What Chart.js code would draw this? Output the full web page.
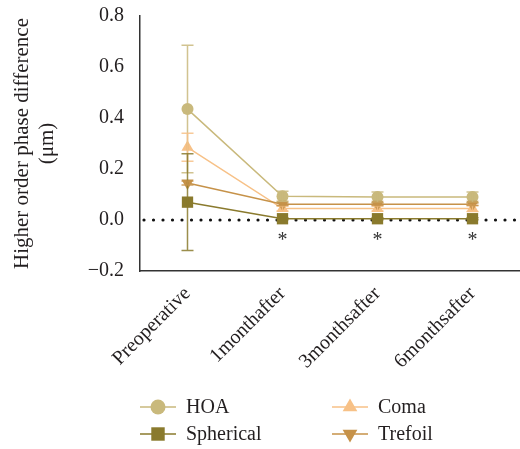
<!DOCTYPE html>
<html>
<head>
<meta charset="utf-8">
<script src="https://cdn.jsdelivr.net/npm/chart.js@4.4.1/dist/chart.umd.min.js"></script>
<style>
  html, body { margin: 0; padding: 0; background: #fff; }
  #wrap { width: 520px; height: 449px; position: relative; }
</style>
</head>
<body>
<div id="wrap"><canvas id="chart"></canvas></div>
<script>
const categories = ['Preoperative', '1monthafter', '3monthsafter', '6monthsafter'];

const hoa = [0.435, 0.093, 0.09, 0.09];
const hoaErr = [0.25, 0.02, 0.02, 0.02];
const coma = [0.285, 0.045, 0.045, 0.045];
const comaErr = [0.055, 0.01, 0.01, 0.012];
const spherical = [0.07, 0.005, 0.005, 0.005];
const sphericalErr = [0.19, 0.004, 0.004, 0.004];
const trefoil = [0.145, 0.062, 0.062, 0.062];
const trefoilErr = [0.008, 0.005, 0.005, 0.005];

const sigMarks = ['', '*', '*', '*'];
const yTicks = [-0.2, 0.0, 0.2, 0.4, 0.6, 0.8];

const serif = '"Liberation Serif", "DejaVu Serif", serif';
Chart.defaults.font.family = serif;
Chart.defaults.color = '#231f20';

const colors = {
  hoa: '#c9b97c',
  coma: '#f7c187',
  spherical: '#8a7a2d',
  trefoil: '#c69249'
};

function series(label, data, err, color, style, rot, radius, order) {
  return {
    label: label,
    data: data,
    errors: err,
    borderColor: color,
    backgroundColor: color,
    borderWidth: 1.5,
    pointStyle: style,
    rotation: rot,
    pointRadius: radius,
    pointHoverRadius: radius,
    pointBorderWidth: 0,
    order: order
  };
}

// error bars
const errorBars = {
  id: 'errorBars',
  afterDatasetsDraw(chart) {
    const ctx = chart.ctx;
    const y = chart.scales.y;
    ctx.save();
    chart.data.datasets.forEach((ds, i) => {
      const meta = chart.getDatasetMeta(i);
      ctx.strokeStyle = ds.borderColor;
      ctx.globalAlpha = 0.85;
      ctx.lineWidth = 1.5;
      meta.data.forEach((pt, j) => {
        const e = ds.errors[j];
        const top = y.getPixelForValue(ds.data[j] + e);
        const bot = y.getPixelForValue(ds.data[j] - e);
        ctx.beginPath();
        ctx.moveTo(pt.x, top); ctx.lineTo(pt.x, bot);
        ctx.moveTo(pt.x - 6, top); ctx.lineTo(pt.x + 6, top);
        ctx.moveTo(pt.x - 6, bot); ctx.lineTo(pt.x + 6, bot);
        ctx.stroke();
      });
    });
    ctx.restore();
  }
};

// dotted zero line and significance marks
const extras = {
  id: 'extras',
  beforeDatasetsDraw(chart) {
    const ctx = chart.ctx;
    const a = chart.chartArea;
    const y0 = chart.scales.y.getPixelForValue(0);
    ctx.save();
    ctx.strokeStyle = '#111';
    ctx.lineWidth = 3.2;
    ctx.lineCap = 'round';
    ctx.setLineDash([0, 9.5]);
    ctx.beginPath();
    ctx.moveTo(a.left + 4, y0);
    ctx.lineTo(chart.width, y0);
    ctx.stroke();
    ctx.restore();
  },
  afterDraw(chart) {
    const ctx = chart.ctx;
    const x = chart.scales.x;
    const y = chart.scales.y;
    ctx.save();
    ctx.fillStyle = '#333';
    ctx.font = '20px ' + serif;
    ctx.textAlign = 'center';
    ctx.textBaseline = 'middle';
    sigMarks.forEach((m, i) => {
      if (m) ctx.fillText(m, x.getPixelForValue(i), y.getPixelForValue(-0.07) + 3);
    });
    ctx.restore();
  }
};

// legend in two columns with line through marker
const legendBox = {
  id: 'legendBox',
  afterDraw(chart) {
    const ctx = chart.ctx;
    const cols = [140, 332];
    const rows = [chart.height - 42, chart.height - 15];
    ctx.save();
    chart.data.datasets.forEach((ds, k) => {
      const x = cols[k % 2];
      const yy = rows[Math.floor(k / 2)];
      ctx.strokeStyle = ds.borderColor;
      ctx.lineWidth = 1.5;
      ctx.beginPath();
      ctx.moveTo(x, yy); ctx.lineTo(x + 36, yy);
      ctx.stroke();
      ctx.fillStyle = ds.backgroundColor;
      Chart.helpers.drawPoint(ctx, {
        pointStyle: ds.pointStyle,
        rotation: ds.rotation,
        radius: ds.pointRadius + 1.5,
        borderWidth: 0
      }, x + 18, yy);
      ctx.fillStyle = '#231f20';
      ctx.font = '20px ' + serif;
      ctx.textAlign = 'left';
      ctx.textBaseline = 'middle';
      ctx.fillText(ds.label, x + 46, yy + 1);
    });
    ctx.restore();
  }
};

new Chart(document.getElementById('chart'), {
  type: 'line',
  data: {
    labels: categories,
    datasets: [
      series('HOA', hoa, hoaErr, colors.hoa, 'circle', 0, 6, 3),
      series('Coma', coma, comaErr, colors.coma, 'triangle', 0, 7, 4),
      series('Spherical', spherical, sphericalErr, colors.spherical, 'rect', 0, 8, 1),
      series('Trefoil', trefoil, trefoilErr, colors.trefoil, 'triangle', 180, 7, 2)
    ]
  },
  options: {
    responsive: true,
    maintainAspectRatio: false,
    animation: false,
    layout: { autoPadding: false, padding: { top: 16, right: 0, bottom: 0, left: 0 } },
    plugins: {
      legend: { display: false },
      tooltip: { enabled: false }
    },
    scales: {
      x: {
        offset: true,
        grid: { display: false, drawTicks: true, tickLength: 8, color: '#333' },
        border: { color: '#333', width: 1.5 },
        ticks: {
          color: '#231f20',
          font: { size: 20 },
          minRotation: 45,
          maxRotation: 45,
          padding: 3
        },
        afterFit(scale) {
          scale.height = 178;
          scale.paddingRight = 0;
        }
      },
      y: {
        min: -0.2,
        max: 0.8,
        afterBuildTicks(scale) { scale.ticks = yTicks.map(v => ({ value: v })); },
        grid: { display: false, drawTicks: true, tickLength: 8, color: '#333' },
        border: { color: '#333', width: 1.5 },
        ticks: {
          color: '#231f20',
          font: { size: 20 },
          padding: 8,
          callback: v => v.toFixed(1).replace('-', '\u2212')
        },
        title: {
          display: true,
          text: ['Higher order phase difference', '(\u03bcm)'],
          color: '#231f20',
          font: { size: 21, lineHeight: 1.2 },
          padding: { top: 10, bottom: 0 }
        },
        afterFit(scale) {
          scale.width = 140;
          scale.paddingTop = 0;
        }
      }
    }
  },
  plugins: [errorBars, extras, legendBox]
});
</script>
</body>
</html>
